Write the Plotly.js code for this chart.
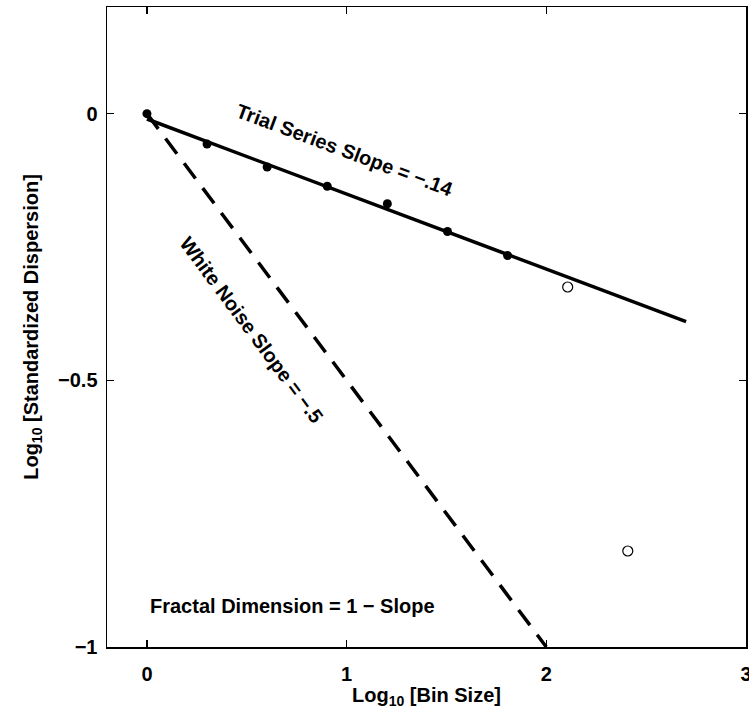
<!DOCTYPE html>
<html>
<head>
<meta charset="utf-8">
<script src="https://cdn.plot.ly/plotly-3.0.1.min.js"></script>
<style>html,body{margin:0;padding:0;background:#fff;}</style>
</head>
<body>
<div id="chart" style="width:749px;height:709px;"></div>
<script>
// Log10 bin sizes (1,2,4,...,64 filled; 128,256 open)
var binLogFilled = [0, 0.301, 0.602, 0.903, 1.204, 1.505, 1.806];
var dispFilled = [0, -0.057, -0.100, -0.136, -0.169, -0.221, -0.266];
var binLogOpen = [2.107, 2.408];
var dispOpen = [-0.325, -0.820];
// fitted trial-series line (slope -.14)
var fitX = [0, 2.7];
var fitY = [-0.01, -0.39];
// white noise reference line (slope -.5)
var whiteX = [0, 2];
var whiteY = [0, -1];

var xTicks = [0, 1, 2, 3];
var yTicks = [-1, -0.5, 0];

var F = 'Liberation Sans, Arial, Helvetica, sans-serif';
var boldFont = {family: F, size: 20, color: '#000', weight: 'bold'};

var traces = [
  {x: whiteX, y: whiteY, mode: 'lines', type: 'scatter',
   line: {color: '#000', width: 3.5, dash: '19px,12px'}, hoverinfo: 'skip'},
  {x: fitX, y: fitY, mode: 'lines', type: 'scatter',
   line: {color: '#000', width: 3.5}, hoverinfo: 'skip'},
  {x: binLogFilled, y: dispFilled, mode: 'markers', type: 'scatter',
   marker: {symbol: 'circle', size: 9, color: '#000'}},
  {x: binLogOpen, y: dispOpen, mode: 'markers', type: 'scatter',
   marker: {symbol: 'circle-open', size: 10, color: '#000', line: {width: 1.2, color: '#000'}}}
];

var layout = {
  width: 749, height: 709,
  margin: {l: 107, r: 3, t: 7, b: 62},
  paper_bgcolor: '#fff', plot_bgcolor: '#fff',
  showlegend: false,
  xaxis: {
    range: [-0.2, 3], tickvals: xTicks, ticktext: xTicks.map(String),
    ticks: 'inside', ticklen: 7, tickwidth: 1.2, tickcolor: '#000',
    showline: true, linecolor: '#000', linewidth: 1.5, mirror: 'ticks',
    showgrid: false, zeroline: false,
    tickfont: boldFont, ticklabeloverflow: 'allow', ticklabelstandoff: 8,
    title: {text: 'Log<sub>10</sub> [Bin Size]', font: boldFont, standoff: 2}
  },
  yaxis: {
    range: [-1, 0.2], tickvals: yTicks, ticktext: ['\u22121', '\u22120.5', '0'],
    ticks: 'inside', ticklen: 7, tickwidth: 1.2, tickcolor: '#000',
    showline: true, linecolor: '#000', linewidth: 1.5, mirror: 'ticks',
    showgrid: false, zeroline: false,
    tickfont: boldFont, ticklabelstandoff: 4,
    title: {text: 'Log<sub>10</sub> [Standardized Dispersion]', font: boldFont, standoff: 14}
  },
  annotations: [
    {x: 0.99, y: -0.0675, xref: 'x', yref: 'y', text: 'Trial Series Slope = \u2212.14',
     showarrow: false, textangle: 20.5, font: boldFont},
    {x: 0.525, y: -0.405, xref: 'x', yref: 'y', text: 'White Noise Slope = \u2212.5',
     showarrow: false, textangle: 53.5, font: boldFont},
    {x: 0.005, y: -0.923, xref: 'x', yref: 'y', text: 'Fractal Dimension = 1 \u2212 Slope',
     showarrow: false, xanchor: 'left', yanchor: 'middle', font: boldFont}
  ]
};

Plotly.newPlot('chart', traces, layout, {displayModeBar: false, staticPlot: true});
</script>
</body>
</html>
